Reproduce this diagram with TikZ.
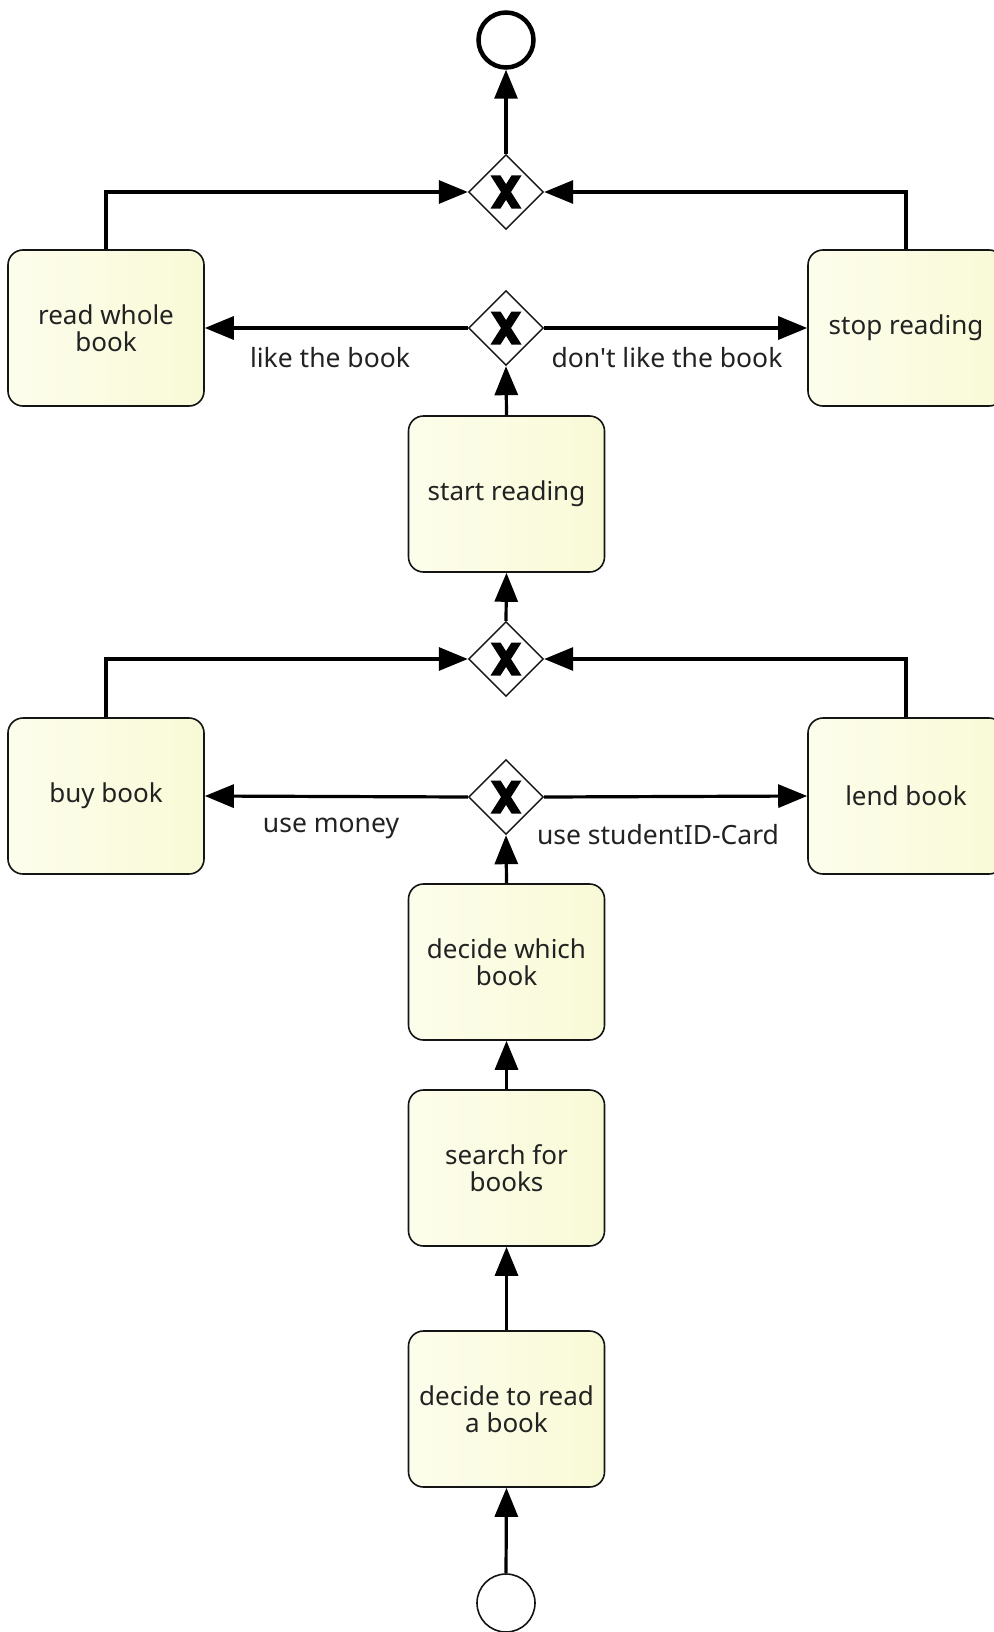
\documentclass[tikz,border=0pt]{standalone}
\usepackage{fontspec}
\setmainfont{Noto Sans}[Ligatures=TeXOff]
\usetikzlibrary{arrows.meta,shapes.geometric}

\definecolor{taskfillA}{RGB}{253,253,236}
\definecolor{taskfillB}{RGB}{248,250,214}
\definecolor{edgecol}{RGB}{20,20,20}
\definecolor{textcol}{RGB}{34,34,34}

\tikzset{
  task/.style={rectangle, rounded corners=15pt, draw=edgecol, line width=1.6pt,
    left color=taskfillA, right color=taskfillB,
    minimum width=196pt, minimum height=156pt, inner sep=0pt, align=center,
    text=textcol, font=\fontsize{26}{27.5}\selectfont},
  % exclusive gateway: diamond with a bold X marker
  xgate/.style={diamond, draw=edgecol, line width=1.4pt, fill=white,
    minimum width=75pt, minimum height=75pt, inner sep=0pt,
    path picture={
      \fill[black, shift={(path picture bounding box.center)}]
        (-15.5,-16.5) -- (-5.5,-16.5) -- (15.5,16.5) -- (5.5,16.5) -- cycle
        (5.5,-16.5) -- (15.5,-16.5) -- (-5.5,16.5) -- (-15.5,16.5) -- cycle;
    }},
  startev/.style={circle, draw=edgecol, line width=1.6pt, fill=white, minimum size=58pt, inner sep=0pt},
  endev/.style={circle, draw=black, line width=4.5pt, fill=white, minimum size=55pt, inner sep=0pt},
  flow/.style={draw=black, line width=3.2pt, -{Triangle[length=29pt,width=23pt]}},
  flowlabel/.style={font=\fontsize{26.5}{28}\selectfont, text=textcol, inner sep=0pt}
}

\begin{document}
\begin{tikzpicture}[x=1pt,y=-1pt]
  \useasboundingbox (0,0) rectangle (993,1632);
  \fill[white] (0,0) rectangle (993,1632);

  % events
  \node[endev]   (finish) at (506,40) {};
  \node[startev] (begin)  at (506,1603) {};

  % gateways
  \node[xgate] (gTop)   at (506,192) {};
  \node[xgate] (gLike)  at (506,328) {};
  \node[xgate] (gMerge) at (506,659) {};
  \node[xgate] (gPay)   at (506,797) {};

  % tasks
  \node[task] (readWhole)   at (106,328)  {read whole\\book};
  \node[task] (stopReading) at (906,328)  {stop reading};
  \node[task] (startRead)   at (506.5,494) {start reading};
  \node[task] (buyBook)     at (106,796)  {buy book};
  \node[task] (lendBook)    at (906,796)  {lend book};
  \node[task] (decideWhich) at (506.5,962) {decide which\\book};
  \node[task] (searchBooks) at (506.5,1168) {search for\\books};
  \node[task] (decideRead)  at (506.5,1409) {decide to read\\a book};

  % sequence flows
  \draw[flow] (begin.north) -- (decideRead.south);
  \draw[flow] (decideRead.north) -- (searchBooks.south);
  \draw[flow] (searchBooks.north) -- (decideWhich.south);
  \draw[flow] (decideWhich.north) -- (gPay.south);
  \draw[flow] (gPay.west) -- (buyBook.east);
  \draw[flow] (gPay.east) -- (lendBook.west);
  \draw[flow] (buyBook.north) |- (gMerge.west);
  \draw[flow] (lendBook.north) |- (gMerge.east);
  \draw[flow] (gMerge.north) -- (startRead.south);
  \draw[flow] (startRead.north) -- (gLike.south);
  \draw[flow] (gLike.west) -- (readWhole.east);
  \draw[flow] (gLike.east) -- (stopReading.west);
  \draw[flow] (readWhole.north) |- (gTop.west);
  \draw[flow] (stopReading.north) |- (gTop.east);
  \draw[flow] (gTop.north) -- (finish.south);

  % flow labels
  \node[flowlabel] (lblLike)    at (330,358) {like the book};
  \node[flowlabel] (lblDislike) at (667,358) {don't like the book};
  \node[flowlabel] (lblMoney)   at (331,828) {use money};
  \node[flowlabel] (lblCard)    at (658,835) {use studentID-Card};
\end{tikzpicture}
\end{document}
